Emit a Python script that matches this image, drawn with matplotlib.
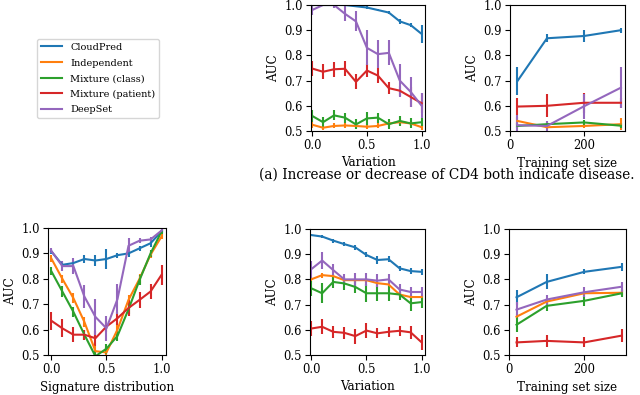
import matplotlib
matplotlib.use("Agg")
import matplotlib.pyplot as plt

plt.rcParams['font.family'] = 'DejaVu Serif'
plt.rcParams['font.size'] = 8.3

methods = ["CloudPred", "Independent", "Mixture (class)", "Mixture (patient)", "DeepSet"]
colors = ["C0", "C1", "C2", "C3", "C4"]

variation = [0.0, 0.1, 0.2, 0.3, 0.4, 0.5, 0.6, 0.7, 0.8, 0.9, 1.0]
train_size = [20, 100, 200, 300]
signature = [0.0, 0.1, 0.2, 0.3, 0.4, 0.5, 0.6, 0.7, 0.8, 0.9, 1.0]

# (a) top row: variation
a_var = {
    "CloudPred": [1.0, 1.0, 1.0, 1.0, 0.995, 0.99, 0.98, 0.97, 0.935, 0.92, 0.885],
    "Independent": [0.525, 0.513, 0.52, 0.522, 0.52, 0.517, 0.52, 0.53, 0.535, 0.53, 0.515],
    "Mixture (class)": [0.56, 0.535, 0.562, 0.553, 0.526, 0.55, 0.553, 0.527, 0.54, 0.53, 0.535],
    "Mixture (patient)": [0.748, 0.735, 0.745, 0.747, 0.695, 0.74, 0.72, 0.67, 0.66, 0.635, 0.61],
    "DeepSet": [0.98, 1.0, 1.0, 0.965, 0.935, 0.83, 0.805, 0.81, 0.70, 0.655, 0.60],
}
a_var_err = {
    "CloudPred": [0.005, 0.003, 0.003, 0.003, 0.004, 0.005, 0.005, 0.006, 0.01, 0.008, 0.035],
    "Independent": [0.012, 0.008, 0.01, 0.01, 0.01, 0.01, 0.01, 0.015, 0.012, 0.01, 0.01],
    "Mixture (class)": [0.025, 0.02, 0.02, 0.02, 0.02, 0.025, 0.02, 0.02, 0.02, 0.02, 0.015],
    "Mixture (patient)": [0.03, 0.03, 0.03, 0.03, 0.03, 0.025, 0.03, 0.025, 0.02, 0.04, 0.04],
    "DeepSet": [0.02, 0.005, 0.01, 0.03, 0.04, 0.07, 0.055, 0.05, 0.065, 0.06, 0.05],
}

# (a) top row: training set size
a_size = {
    "CloudPred": [0.698, 0.868, 0.877, 0.90],
    "Independent": [0.54, 0.515, 0.52, 0.527],
    "Mixture (class)": [0.52, 0.527, 0.534, 0.521],
    "Mixture (patient)": [0.597, 0.60, 0.612, 0.612],
    "DeepSet": [0.523, 0.52, 0.598, 0.672],
}
a_size_err = {
    "CloudPred": [0.055, 0.015, 0.025, 0.01],
    "Independent": [0.015, 0.008, 0.01, 0.025],
    "Mixture (class)": [0.01, 0.01, 0.01, 0.01],
    "Mixture (patient)": [0.035, 0.045, 0.04, 0.02],
    "DeepSet": [0.04, 0.02, 0.05, 0.08],
}

# (b) bottom row: signature distribution
b_sig = {
    "CloudPred": [0.908, 0.855, 0.862, 0.878, 0.872, 0.878, 0.893, 0.90, 0.92, 0.94, 0.987],
    "Independent": [0.88, 0.80, 0.724, 0.63, 0.515, 0.51, 0.60, 0.717, 0.80, 0.895, 0.967],
    "Mixture (class)": [0.83, 0.75, 0.67, 0.58, 0.495, 0.525, 0.575, 0.68, 0.795, 0.90, 0.987],
    "Mixture (patient)": [0.635, 0.605, 0.58, 0.58, 0.566, 0.612, 0.645, 0.685, 0.717, 0.75, 0.816],
    "DeepSet": [0.91, 0.85, 0.85, 0.73, 0.65, 0.605, 0.72, 0.93, 0.95, 0.955, 0.99],
}
b_sig_err = {
    "CloudPred": [0.01, 0.01, 0.01, 0.015, 0.02, 0.04, 0.01, 0.015, 0.01, 0.015, 0.005],
    "Independent": [0.015, 0.015, 0.02, 0.02, 0.02, 0.02, 0.02, 0.02, 0.02, 0.015, 0.01],
    "Mixture (class)": [0.015, 0.02, 0.02, 0.02, 0.02, 0.02, 0.02, 0.02, 0.02, 0.015, 0.01],
    "Mixture (patient)": [0.035, 0.035, 0.03, 0.02, 0.03, 0.02, 0.025, 0.03, 0.03, 0.03, 0.04],
    "DeepSet": [0.01, 0.02, 0.03, 0.045, 0.07, 0.05, 0.06, 0.03, 0.01, 0.01, 0.005],
}

# (b) bottom row: variation
b_var = {
    "CloudPred": [0.976, 0.97, 0.954, 0.94, 0.927, 0.897, 0.877, 0.88, 0.844, 0.833, 0.83],
    "Independent": [0.80, 0.817, 0.813, 0.797, 0.797, 0.797, 0.785, 0.78, 0.74, 0.73, 0.73],
    "Mixture (class)": [0.765, 0.745, 0.79, 0.784, 0.77, 0.745, 0.745, 0.745, 0.74, 0.705, 0.71],
    "Mixture (patient)": [0.605, 0.612, 0.592, 0.588, 0.575, 0.597, 0.586, 0.592, 0.596, 0.59, 0.55],
    "DeepSet": [0.84, 0.875, 0.837, 0.80, 0.80, 0.80, 0.795, 0.80, 0.76, 0.75, 0.75],
}
b_var_err = {
    "CloudPred": [0.005, 0.005, 0.008, 0.008, 0.01, 0.01, 0.015, 0.012, 0.01, 0.012, 0.012],
    "Independent": [0.01, 0.01, 0.01, 0.01, 0.01, 0.01, 0.01, 0.01, 0.01, 0.01, 0.01],
    "Mixture (class)": [0.03, 0.04, 0.025, 0.025, 0.025, 0.035, 0.03, 0.03, 0.02, 0.03, 0.025],
    "Mixture (patient)": [0.03, 0.03, 0.025, 0.025, 0.03, 0.03, 0.02, 0.02, 0.02, 0.025, 0.03],
    "DeepSet": [0.035, 0.035, 0.025, 0.02, 0.025, 0.025, 0.025, 0.02, 0.02, 0.02, 0.02],
}

# (b) bottom row: training set size
b_size = {
    "CloudPred": [0.729, 0.79, 0.83, 0.85],
    "Independent": [0.652, 0.712, 0.745, 0.747],
    "Mixture (class)": [0.62, 0.695, 0.715, 0.745],
    "Mixture (patient)": [0.55, 0.556, 0.55, 0.577],
    "DeepSet": [0.68, 0.72, 0.749, 0.771],
}
b_size_err = {
    "CloudPred": [0.03, 0.03, 0.01, 0.015],
    "Independent": [0.01, 0.01, 0.01, 0.01],
    "Mixture (class)": [0.03, 0.02, 0.02, 0.015],
    "Mixture (patient)": [0.02, 0.025, 0.02, 0.025],
    "DeepSet": [0.03, 0.02, 0.02, 0.02],
}

W, H = 640, 395
fig = plt.figure(figsize=(W / 100, H / 100), dpi=100)


def box(x0, y0, x1, y1):
    return [x0 / W, 1 - y1 / H, (x1 - x0) / W, (y1 - y0) / H]


def panel(rect, x, data, err, xlabel, xlim, xticks, xticklabels):
    ax = fig.add_axes(box(*rect))
    for m, c in zip(methods, colors):
        ax.errorbar(x, data[m], yerr=err[m], color=c, lw=1.5, elinewidth=1.5,
                    capsize=0, label=m)
    ax.set_ylim(0.5, 1.0)
    ax.set_yticks([0.5, 0.6, 0.7, 0.8, 0.9, 1.0])
    ax.set_xlim(*xlim)
    ax.set_xticks(xticks)
    ax.set_xticklabels(xticklabels)
    ax.set_xlabel(xlabel, fontsize=8.6, labelpad=3)
    ax.set_ylabel("AUC", fontsize=8.6, labelpad=3)
    ax.tick_params(length=3.5, pad=2.5)
    return ax


ax1 = panel((311, 5, 425, 131), variation, a_var, a_var_err, "Variation",
            (-0.01, 1.03), [0, 0.5, 1.0], ["0.0", "0.5", "1.0"])
panel((510, 5, 625, 131), train_size, a_size, a_size_err, "Training set size",
      (0, 311), [0, 200], ["0", "200"])
panel((48, 228, 166, 355), signature, b_sig, b_sig_err, "Signature distribution",
      (-0.03, 1.04), [0, 0.5, 1.0], ["0.0", "0.5", "1.0"])
panel((310, 229, 425, 355), variation, b_var, b_var_err, "Variation",
      (-0.01, 1.03), [0, 0.5, 1.0], ["0.0", "0.5", "1.0"])
panel((509, 229, 626, 355), train_size, b_size, b_size_err, "Training set size",
      (0, 311), [0, 200], ["0", "200"])

handles, labels = ax1.get_legend_handles_labels()
handles = [h[0] for h in handles]
fig.legend(handles, labels, loc="upper left", bbox_to_anchor=(37 / W, 1 - 39 / H),
           fontsize=7, frameon=True, handlelength=2.2, labelspacing=0.68,
           borderaxespad=0)

fig.text(447 / W, 1 - 175 / H, "(a) Increase or decrease of CD4 both indicate disease.",
         ha="center", va="center", fontsize=9.8)

fig.savefig("out.png", dpi=100)
